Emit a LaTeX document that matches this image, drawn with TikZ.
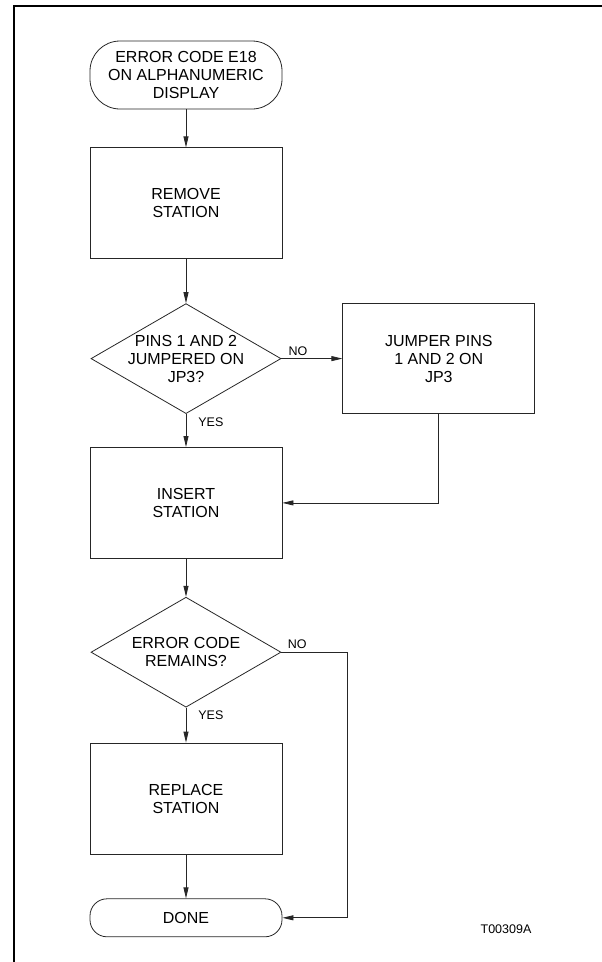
\documentclass[tikz,border=0pt]{standalone}
\usepackage{fontspec}
\setmainfont{Liberation Sans}
\usetikzlibrary{shapes.geometric, arrows.meta, positioning}

\begin{document}
\begin{tikzpicture}[
    x=1pt, y=1pt,
    font=\fontsize{16}{18}\selectfont,
    >={Triangle[length=11pt, width=5pt]},
    line width=0.8pt,
    % Base styles for the shapes
    terminal/.style={rectangle, rounded corners=30pt, draw=black!85, align=center, minimum width=192pt, inner sep=0pt},
    process/.style={rectangle, draw=black!85, align=center, minimum width=192pt, minimum height=111pt},
    decision/.style={diamond, aspect=1.73, draw=black!85, align=center, minimum width=190pt, minimum height=110pt, inner sep=-3pt},
    smalltext/.style={font=\fontsize{12.5}{14}\selectfont, inner sep=3pt},
    flow/.style={->, draw=black!85}
]

% --- Frame ---
\useasboundingbox (0,0) rectangle (602,-962);
\draw [line width=2pt] (602,-5.7) -- (14,-5.7) -- (14,-962);

% --- Nodes ---
\node [terminal, minimum height=68pt] (start) at (186,-75) {ERROR CODE E18\\ON ALPHANUMERIC\\DISPLAY};

\node [process, below=38pt of start] (remove) {REMOVE\\STATION};

\node [decision, below=44pt of remove] (jumpered) {PINS 1 AND 2\\JUMPERED ON\\JP3?};

\node [process, right=61pt of jumpered, minimum height=110pt] (jumper) {JUMPER PINS\\1 AND 2 ON\\JP3};

\node [process, below=33pt of jumpered] (insert) {INSERT\\STATION};

\node [decision, below=38pt of insert] (remains) {ERROR CODE\\REMAINS?};

\node [process, below=35pt of remains] (replace) {REPLACE\\STATION};

\node [terminal, rounded corners=17pt, minimum height=38pt, below=44pt of replace] (done) {DONE};

\node [smalltext] (figid) at (506,-929) {T00309A};

% Corner of the NO branch of the second question
\coordinate [right=66pt of remains.east] (noturn);

% --- Arrows ---
\draw [flow] (start) -- (remove);
\draw [flow] (remove) -- (jumpered);
\draw [flow] (jumpered) -- node[smalltext, above, pos=0.27] {NO} (jumper);
\draw [flow] (jumpered) -- node[smalltext, right, xshift=9pt, pos=0.24] {YES} (insert);
\draw [flow] (jumper.south) |- (insert.east);
\draw [flow] (insert) -- (remains);
\draw [flow] (remains) -- node[smalltext, right, xshift=9pt, pos=0.23] {YES} (replace);
\draw [flow] (replace) -- (done);

% NO branch around to DONE
\draw [draw=black!85] (remains.east) -- node[smalltext, above, pos=0.24] {NO} (noturn);
\draw [flow] (noturn) |- (done.east);

\end{tikzpicture}
\end{document}
